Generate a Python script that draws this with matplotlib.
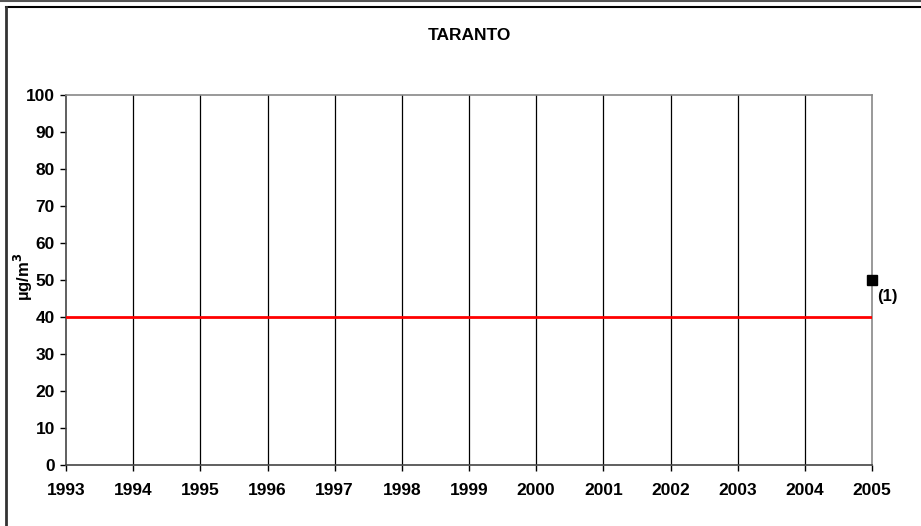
import matplotlib.pyplot as plt
from matplotlib.lines import Line2D

plt.rcParams['font.family'] = ['Liberation Sans', 'DejaVu Sans']
plt.rcParams['font.weight'] = 'bold'

years = list(range(1993, 2006))
limit_years = [1993, 2005]
limit_values = [40, 40]
point_year = [2005]
point_value = [50]
point_label = '(1)'
y_ticks = list(range(0, 101, 10))

fs = 12.5

fig = plt.figure(figsize=(9.21, 5.26), dpi=100)
ax = fig.add_axes([66 / 921, 1 - 465 / 526, (872 - 66) / 921, (465 - 95) / 526])

# outer frame lines
fig.add_artist(Line2D([0, 1], [1 - 1 / 526, 1 - 1 / 526], color='#555555', lw=1.5, transform=fig.transFigure))
fig.add_artist(Line2D([6 / 921, 1], [1 - 7 / 526, 1 - 7 / 526], color='black', lw=1.5, transform=fig.transFigure))
fig.add_artist(Line2D([6 / 921, 6 / 921], [0, 1 - 7 / 526], color='#333333', lw=2, transform=fig.transFigure))

for yr in years[1:-1]:
    ax.axvline(yr, color='black', lw=0.9, zorder=1)

ax.plot(limit_years, limit_values, color='#ff0000', lw=2, zorder=3)
ax.plot(point_year, point_value, 's', color='black', ms=7, zorder=4, clip_on=False)
ax.annotate(point_label, (point_year[0], point_value[0]), xytext=(4, -15),
            textcoords='offset points', fontsize=fs - 0.5, fontweight='bold')

ax.set_xlim(1993, 2005)
ax.set_ylim(0, 100)
ax.set_xticks(years)
ax.set_yticks(y_ticks)
ax.tick_params(axis='both', direction='out', length=4, width=1, labelsize=fs, colors='black')
ax.tick_params(axis='x', pad=9)
ax.tick_params(axis='y', pad=4)
for lbl in ax.get_xticklabels() + ax.get_yticklabels():
    lbl.set_fontweight('bold')

ax.spines['left'].set_color('#444444')
ax.spines['bottom'].set_color('#444444')
ax.spines['right'].set_color('#888888')
ax.spines['top'].set_color('#888888')
for s in ax.spines.values():
    s.set_linewidth(1.2)

ax.set_ylabel('µg/m$^3$', fontsize=fs - 0.5, fontweight='bold')
ax.yaxis.set_label_coords(-0.039, 0.51)
fig.text(469 / 921, 1 - 35 / 526, 'TARANTO', ha='center', va='center', fontsize=fs, fontweight='bold')

fig.savefig('out.png', dpi=100)
